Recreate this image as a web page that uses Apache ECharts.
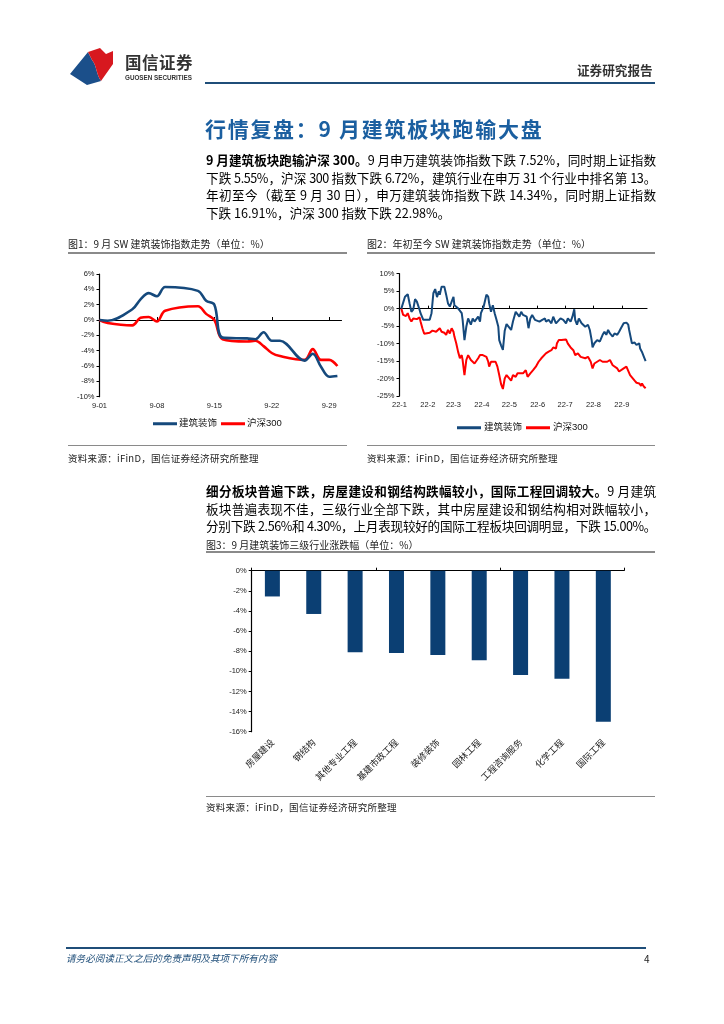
<!DOCTYPE html>
<html><head><meta charset="utf-8">
<script src="https://cdn.jsdelivr.net/npm/echarts@6/dist/echarts.min.js"></script>
<style>
body{margin:0;background:#fff;}
#page{position:relative;width:724px;height:1024px;overflow:hidden;background:#fff;font-family:"Noto Sans CJK SC","Noto Sans",sans-serif;color:#000;}
#chart{position:absolute;left:0;top:0;width:724px;height:1024px;}
.t{position:absolute;white-space:nowrap;z-index:2;}
.ln{position:absolute;z-index:2;}
.para div{width:450px;height:17.7px;line-height:17.7px;font-size:12.6px;text-align:justify;text-align-last:justify;white-space:nowrap;}
.para div.last{text-align-last:left;}
.para div.tight{letter-spacing:-0.45px;}
.cap{font-size:10px;color:#222;}
.src{font-size:9.5px;color:#222;letter-spacing:0.3px;}
</style></head><body>
<div id="page">
<div id="chart"></div>
<svg class="t" style="left:0;top:0" width="140" height="100">
<path d="M70,74 L88,52 L92,60 C97,66 96,74 101,81 L87,85 Z" fill="#1b4f8a"/>
<path d="M88,52 L100,48 L106,54 L113,51 L113,64 L101,81 C96,74 97,66 92,60 Z" fill="#d7181f"/>
</svg>
<div class="t" style="left:125px;top:50px;font-size:16.5px;font-weight:bold;color:#333;letter-spacing:0.5px;">国信证券</div>
<div class="t" style="left:125px;top:74px;font-size:6.3px;font-weight:bold;color:#333;font-family:'Liberation Sans',sans-serif;">GUOSEN SECURITIES</div>
<div class="t" style="left:577px;top:60px;font-size:12.6px;font-weight:bold;color:#333;">证券研究报告</div>
<div class="ln" style="left:205px;top:82px;width:450px;height:2px;background:#1f4e79;"></div>

<div class="t" style="left:205px;top:113px;font-size:21px;font-weight:bold;color:#1b5fa0;letter-spacing:1.7px;">行情复盘：9 月建筑板块跑输大盘</div>

<div class="t para" style="left:206px;top:151px;">
<div><b>9 月建筑板块跑输沪深 300。</b>9 月申万建筑装饰指数下跌 7.52%，同时期上证指数</div>
<div class="tight">下跌 5.55%，沪深 300 指数下跌 6.72%，建筑行业在申万 31 个行业中排名第 13。</div>
<div>年初至今（截至 9 月 30 日），申万建筑装饰指数下跌 14.34%，同时期上证指数</div>
<div class="last">下跌 16.91%，沪深 300 指数下跌 22.98%。</div>
</div>

<div class="t cap" style="left:68px;top:236px;">图1：9 月 SW 建筑装饰指数走势（单位：%）</div>
<div class="ln" style="left:68px;top:252px;width:279px;height:1.5px;background:#8a8a8a;"></div>
<div class="t cap" style="left:367px;top:236px;">图2：年初至今 SW 建筑装饰指数走势（单位：%）</div>
<div class="ln" style="left:367px;top:252px;width:288px;height:1.5px;background:#8a8a8a;"></div>

<div class="ln" style="left:68px;top:445px;width:279px;height:1px;background:#8a8a8a;"></div>
<div class="t src" style="left:68px;top:451px;">资料来源：iFinD，国信证券经济研究所整理</div>
<div class="ln" style="left:367px;top:445px;width:288px;height:1px;background:#8a8a8a;"></div>
<div class="t src" style="left:367px;top:451px;">资料来源：iFinD，国信证券经济研究所整理</div>

<div class="t para" style="left:206px;top:482px;">
<div><b>细分板块普遍下跌，房屋建设和钢结构跌幅较小，国际工程回调较大。</b>9 月建筑</div>
<div>板块普遍表现不佳，三级行业全部下跌，其中房屋建设和钢结构相对跌幅较小，</div>
<div class="tight">分别下跌 2.56%和 4.30%，上月表现较好的国际工程板块回调明显，下跌 15.00%。</div>
</div>

<div class="t cap" style="left:206px;top:537px;">图3：9 月建筑装饰三级行业涨跌幅（单位：%）</div>
<div class="ln" style="left:206px;top:551px;width:449px;height:1.5px;background:#8a8a8a;"></div>
<div class="ln" style="left:206px;top:796px;width:449px;height:1px;background:#8a8a8a;"></div>
<div class="t src" style="left:206px;top:800px;">资料来源：iFinD，国信证券经济研究所整理</div>

<div class="ln" style="left:66px;top:947px;width:580px;height:1.5px;background:#1f4e79;"></div>
<div class="t" style="left:66px;top:951px;font-size:9.6px;font-style:italic;color:#1f4e79;">请务必阅读正文之后的免责声明及其项下所有内容</div>
<div class="t" style="left:644px;top:951px;font-size:10px;color:#222;">4</div>
</div>
<script>
// Figure 1: September 2022 (daily, %)
const c1Dates = ['9-01','9-02','9-05','9-06','9-07','9-08','9-09','9-13','9-14','9-15','9-16','9-19','9-20','9-21','9-22','9-23','9-26','9-27','9-28','9-29','9-30'];
const c1Build = [0,-0.1,1.4,2.7,3.5,3.1,4.3,3.8,2.5,2.0,-2.3,-2.4,-2.5,-1.6,-2.7,-2.7,-5.3,-4.4,-6.1,-7.4,-7.3];
const c1HS300 = [0,-0.4,-0.7,0.3,0.4,-0.2,1.2,1.8,0.8,0.0,-2.5,-2.8,-2.7,-3.4,-4.3,-4.7,-5.2,-3.8,-5.2,-5.2,-6.0];
const c1Ticks = ['9-01','9-08','9-15','9-22','9-29'];

// Figure 2: YTD 2022 (%)
const c2BuildDates = ['01-03','01-07','01-10','01-12','01-14','01-16','01-18','01-20','01-21','01-23','01-24','01-27','02-03','02-05','02-07','02-09','02-11','02-13','02-14','02-16','02-17','02-19','02-21','02-23','02-25','02-27','03-01','03-02','03-04','03-06','03-08','03-10','03-11','03-13','03-15','03-17','03-19','03-20','03-22','03-24','03-26','03-28','03-30','03-31','04-03','04-06','04-08','04-09','04-11','04-13','04-15','04-17','04-19','04-20','04-22','04-24','04-26','04-28','04-29','05-03','05-05','05-08','05-10','05-12','05-14','05-16','05-18','05-20','05-22','05-24','05-26','05-29','05-31','06-03','06-06','06-09','06-10','06-13','06-16','06-18','06-21','06-23','06-26','06-29','07-02','07-04','07-07','07-09','07-11','07-12','07-14','07-16','07-19','07-21','07-23','07-26','07-28','07-30','07-31','08-02','08-05','08-08','08-11','08-13','08-15','08-17','08-19','08-22','08-24','08-27','08-29','08-31','09-03','09-06','09-08','09-09','09-12','09-15','09-17','09-20','09-21','09-23','09-25','09-27'];
const c2Build = [0,3.4,4.1,1.5,-0.9,-0.3,2.7,2.0,1.5,-0.4,-1.3,-3.2,-3.2,-1.3,4.4,5.6,3.3,5.0,4.0,6.3,6.8,6.3,4.0,1.5,0.6,2.0,3.4,1.0,1.5,0.1,0.6,-1.3,-3.2,-9.0,-5.2,-2.8,-3.2,-4.6,-2.8,-3.7,-3.2,-2.3,-3.7,-1.3,0.6,4.0,3.4,1.5,-0.9,1.0,-1.3,-3.2,-5.2,-9.0,-10.5,-11.8,-6.3,-4.4,-4.5,-6.1,-3.7,-0.9,-1.3,-2.3,-0.9,-1.8,-1.3,-2.3,-5.6,-2.8,-1.8,-3.2,-2.8,-3.7,-3.2,-2.8,-3.7,-3.2,-4.2,-2.3,-4.2,-3.7,-2.8,-3.2,-4.2,-2.8,-3.7,-2.3,-0.2,-3.2,-4.6,-2.8,-4.2,-3.7,-5.2,-4.6,-6.1,-9.0,-11.1,-9.9,-9.0,-9.4,-7.5,-6.6,-7.5,-6.1,-7.1,-8.0,-7.1,-7.5,-6.6,-5.6,-4.2,-4.0,-4.6,-6.1,-9.9,-9.7,-10.4,-9.9,-11.4,-12.4,-13.7,-15.0];
const c2HSDates = ['01-03','01-05','01-08','01-10','01-12','01-14','01-16','01-18','01-20','01-23','01-24','01-26','01-28','02-03','02-06','02-10','02-14','02-16','02-17','02-19','02-21','02-23','02-25','02-27','03-01','03-02','03-04','03-06','03-08','03-10','03-11','03-13','03-15','03-17','03-19','03-20','03-22','03-24','03-26','03-28','03-30','04-02','04-06','04-08','04-09','04-11','04-13','04-16','04-18','04-20','04-22','04-24','04-26','04-28','04-29','05-03','05-05','05-08','05-10','05-12','05-16','05-19','05-21','05-24','05-27','05-30','06-02','06-05','06-07','06-10','06-13','06-16','06-18','06-21','06-22','06-24','06-27','06-29','07-02','07-04','07-07','07-10','07-12','07-15','07-18','07-20','07-23','07-26','07-29','07-31','08-02','08-05','08-08','08-11','08-13','08-16','08-19','08-22','08-24','08-27','08-29','08-31','09-03','09-06','09-08','09-10','09-12','09-15','09-17','09-20','09-22','09-23','09-25','09-27'];
const c2HS300 = [0,-1.8,-2.1,-1.3,-2.8,-3.7,-2.8,-2.3,-3.0,-2.5,-3.7,-5.6,-7.2,-6.9,-6.3,-6.6,-5.6,-6.6,-6.1,-6.9,-7.5,-6.1,-7.1,-5.6,-6.6,-8.0,-9.9,-12.3,-14.2,-13.3,-14.7,-19.0,-14.7,-13.3,-13.8,-14.7,-14.5,-15.7,-16.2,-14.2,-13.3,-13.3,-13.8,-15.2,-16.6,-15.2,-14.7,-15.2,-16.6,-19.0,-21.6,-23.0,-20.0,-19.0,-18.5,-20.6,-19.0,-19.5,-18.5,-19.0,-18.5,-17.6,-19.5,-18.5,-17.6,-16.6,-15.2,-14.2,-13.8,-12.8,-12.3,-11.9,-11.1,-11.4,-10.0,-9.0,-9.0,-8.6,-8.8,-10.0,-11.1,-11.9,-13.3,-12.8,-13.8,-13.3,-14.2,-13.8,-15.2,-17.1,-15.7,-15.2,-14.7,-15.2,-14.7,-15.2,-14.7,-16.2,-16.6,-17.1,-18.0,-17.6,-17.1,-16.6,-17.1,-19.0,-19.5,-20.6,-21.2,-21.4,-22.1,-21.4,-22.3,-22.8];
const c2Months = ['22-1','22-2','22-3','22-4','22-5','22-6','22-7','22-8','22-9'];

// Figure 3: sub-industry returns in September (%)
const c3Cats = ['房屋建设','钢结构','其他专业工程','基建市政工程','装修装饰','园林工程','工程咨询服务','化学工程','国际工程'];
const c3Vals = [-2.56,-4.30,-8.11,-8.18,-8.38,-8.90,-10.37,-10.73,-15.00];

const BLUE = '#15497c', RED = '#ff0000', BAR = '#0b3f73';
const monthStart = [0,31,59,90,120,151,181,212,243,273];
const doy = s => { const [m,d] = s.split('-').map(Number); return monthStart[m-1] + d - 1; };
const dom = s => Number(s.split('-')[1]);
const zip = (xs, ys, f) => xs.map((x,i) => [f(x), ys[i]]);
const monthVals = c2Months.map((_,i) => monthStart[i]);
const c1TickVals = c1Ticks.map(dom);

const FONT = "'Liberation Sans','Noto Sans CJK SC',sans-serif";
const lab = {fontSize: 7.5, color: '#222', fontFamily: FONT};

const chart = echarts.init(document.getElementById('chart'), null, {renderer: 'canvas'});
chart.setOption({
  animation: false,
  textStyle: {fontFamily: FONT},
  grid: [
    {left: 99.5, top: 274, width: 242, height: 122.7},
    {left: 399.5, top: 273.7, width: 247.5, height: 122.3},
    {left: 251.7, top: 570.7, width: 372.3, height: 161}
  ],
  legend: [
    {data: ['建筑装饰','沪深300'], left: 148, top: 414, icon: 'rect', itemWidth: 24, itemHeight: 3, itemGap: 4,
     textStyle: {fontSize: 9.5, color: '#111', padding: [0,0,0,-3]}, selectedMode: false},
    {data: ['建筑装饰','沪深300'], left: 452, top: 418, icon: 'rect', itemWidth: 24, itemHeight: 3, itemGap: 4,
     textStyle: {fontSize: 9.5, color: '#111', padding: [0,0,0,-2]}, selectedMode: false}
  ],
  xAxis: [
    {gridIndex: 0, type: 'value', position: 'bottom', min: 1, max: 30.5,
     axisLine: {show: false, onZero: false}, axisTick: {show: false}, splitLine: {show: false},
     axisLabel: {...lab, margin: 5, customValues: c1TickVals, formatter: v => c1Ticks[c1TickVals.indexOf(v)] || ''}},
    {gridIndex: 0, type: 'value', position: 'top', min: 1, max: 30.5,
     axisLine: {show: true, onZero: true, lineStyle: {color: '#000', width: 1.2}},
     axisTick: {show: true, inside: false, length: 3, customValues: c1TickVals, lineStyle: {color: '#000'}},
     axisLabel: {show: false}, splitLine: {show: false}},
    {gridIndex: 1, type: 'value', position: 'bottom', min: 0, max: 270.5,
     axisLine: {show: false, onZero: false}, axisTick: {show: false}, splitLine: {show: false},
     axisLabel: {...lab, margin: 5, customValues: monthVals, formatter: v => c2Months[monthVals.indexOf(v)] || ''}},
    {gridIndex: 1, type: 'value', position: 'top', min: 0, max: 270.5,
     axisLine: {show: true, onZero: true, lineStyle: {color: '#000', width: 1.2}},
     axisTick: {show: true, inside: false, length: 3, customValues: monthVals, lineStyle: {color: '#000'}},
     axisLabel: {show: false}, splitLine: {show: false}},
    {gridIndex: 2, type: 'category', position: 'bottom', data: c3Cats,
     axisLine: {show: false}, axisTick: {show: false},
     axisLabel: {fontSize: 9, color: '#222', rotate: 45, margin: 9, interval: 0, fontFamily: "'Noto Sans CJK SC',sans-serif"}},
    {gridIndex: 2, type: 'category', position: 'top', data: c3Cats,
     axisLine: {show: true, lineStyle: {color: '#000', width: 1.2}},
     axisTick: {show: true, inside: false, length: 3, alignWithLabel: false, lineStyle: {color: '#000'}},
     axisLabel: {show: false}}
  ],
  yAxis: [
    {gridIndex: 0, type: 'value', min: -10, max: 6, interval: 2,
     axisLine: {show: true, onZero: false, lineStyle: {color: '#000', width: 1.2}},
     axisTick: {show: true, length: 3, lineStyle: {color: '#000'}}, splitLine: {show: false},
     axisLabel: {...lab, margin: 5, formatter: '{value}%'}},
    {gridIndex: 1, type: 'value', min: -25, max: 10, interval: 5,
     axisLine: {show: true, onZero: false, lineStyle: {color: '#000', width: 1.2}},
     axisTick: {show: true, length: 3, lineStyle: {color: '#000'}}, splitLine: {show: false},
     axisLabel: {...lab, margin: 5, formatter: '{value}%'}},
    {gridIndex: 2, type: 'value', min: -16, max: 0, interval: 2,
     axisLine: {show: true, onZero: false, lineStyle: {color: '#000', width: 1.2}},
     axisTick: {show: true, length: 3, lineStyle: {color: '#000'}}, splitLine: {show: false},
     axisLabel: {...lab, margin: 5, formatter: '{value}%'}}
  ],
  series: [
    {name: '建筑装饰', type: 'line', xAxisIndex: 0, yAxisIndex: 0, data: zip(c1Dates, c1Build, dom),
     smooth: 0.35, showSymbol: false, lineStyle: {color: BLUE, width: 2.6}, itemStyle: {color: BLUE}, z: 3},
    {name: '沪深300', type: 'line', xAxisIndex: 0, yAxisIndex: 0, data: zip(c1Dates, c1HS300, dom),
     smooth: 0.35, showSymbol: false, lineStyle: {color: RED, width: 2.6}, itemStyle: {color: RED}, z: 2},
    {name: '建筑装饰', type: 'line', xAxisIndex: 2, yAxisIndex: 1, data: zip(c2BuildDates, c2Build, doy),
     showSymbol: false, lineStyle: {color: BLUE, width: 2}, itemStyle: {color: BLUE}, z: 3},
    {name: '沪深300', type: 'line', xAxisIndex: 2, yAxisIndex: 1, data: zip(c2HSDates, c2HS300, doy),
     showSymbol: false, lineStyle: {color: RED, width: 2}, itemStyle: {color: RED}, z: 2},
    {name: '涨跌幅', type: 'bar', xAxisIndex: 4, yAxisIndex: 2, data: c3Vals, barWidth: 15,
     itemStyle: {color: BAR}}
  ]
});
</script>
</body></html>
